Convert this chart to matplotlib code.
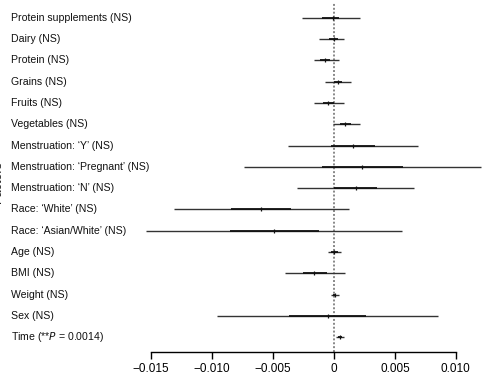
import numpy as np
import matplotlib
matplotlib.use("Agg")
import matplotlib.pyplot as plt
from matplotlib.transforms import blended_transform_factory

plt.rcParams["font.family"] = ["Liberation Sans", "DejaVu Sans"]

# ===============================
# Data
# ===============================
labels = [
    "Protein supplements (NS)",
    "Dairy (NS)",
    "Protein (NS)",
    "Grains (NS)",
    "Fruits (NS)",
    "Vegetables (NS)",
    "Menstruation: \u2018Y\u2019 (NS)",
    "Menstruation: \u2018Pregnant\u2019 (NS)",
    "Menstruation: \u2018N\u2019 (NS)",
    "Race: \u2018White\u2019 (NS)",
    "Race: \u2018Asian/White\u2019 (NS)",
    "Age (NS)",
    "BMI (NS)",
    "Weight (NS)",
    "Sex (NS)",
    "Time (**$P$ = 0.0014)",
]
estimate = [-0.0001, 0.0, -0.0007, 0.0003, -0.0005, 0.0009, 0.0016, 0.0023,
            0.0018, -0.0060, -0.0049, 0.0, -0.0016, 0.0001, -0.0005, 0.0005]
outer_lo = [-0.0026, -0.0012, -0.0016, -0.0007, -0.0016, -0.0001, -0.0038, -0.0074,
            -0.0030, -0.0131, -0.0154, -0.0005, -0.0040, -0.0002, -0.0096, 0.00014]
outer_hi = [0.0021, 0.0008, 0.0004, 0.0014, 0.0008, 0.0021, 0.0069, 0.0121,
            0.0066, 0.0012, 0.0056, 0.0006, 0.0009, 0.0004, 0.0085, 0.0008]
inner_lo = [-0.0010, -0.0004, -0.0011, 0.0, -0.0009, 0.0005, -0.0002, -0.0010,
            0.0, -0.0084, -0.0085, -0.0002, -0.0025, -0.0001, -0.0037, 0.0003]
inner_hi = [0.0004, 0.0003, -0.0003, 0.0007, 0.0, 0.0014, 0.0034, 0.0057,
            0.0035, -0.0035, -0.0012, 0.0003, -0.0006, 0.0002, 0.0026, 0.0007]

xticks = [-0.015, -0.010, -0.005, 0, 0.005, 0.010]
xticklabels = ["\u22120.015", "\u22120.010", "\u22120.005", "0", "0.005", "0.010"]

# ===============================
# Figure
# ===============================
W, H = 495, 374
fig = plt.figure(figsize=(W / 100, H / 100), dpi=100)
ax = fig.add_axes([140 / W, 1 - 352 / H, 350 / W, 349 / H])

y = np.arange(len(labels))
ax.hlines(y, outer_lo, outer_hi, color="#333333", lw=1.0, zorder=2)
ax.hlines(y, inner_lo, inner_hi, color="#111111", lw=1.3, zorder=3)
ax.plot(estimate, y, linestyle="none", marker="|", ms=2.5, mew=0.9,
        color="#111111", zorder=4)

ax.axvline(0, color="#888888", lw=1.4, linestyle=(0, (1, 1)), zorder=1)

ax.set_xlim(-0.0159, 0.0128)
ax.set_ylim(15.7, -0.7)

for side in ["left", "right", "top"]:
    ax.spines[side].set_visible(False)
ax.spines["bottom"].set_bounds(-0.015, 0.010)
ax.spines["bottom"].set_linewidth(1.0)
ax.set_yticks([])
ax.set_xticks(xticks)
ax.set_xticklabels(xticklabels, fontsize=8.5)
ax.tick_params(axis="x", length=5, width=1.0, pad=3)

# row labels, left aligned near the figure edge
trans = blended_transform_factory(fig.transFigure, ax.transData)
for yi, lab in zip(y, labels):
    ax.text(11 / W, yi, lab, transform=trans, ha="left", va="center",
            fontsize=7.6, color="#111111")

# y axis title, mostly cut off at the left edge as in the source
fig.text(4 / W, 1 - 182 / H, "Factors", rotation=90, ha="right",
         va="center", fontsize=9, color="#222222")

fig.savefig("out.png", dpi=100)
